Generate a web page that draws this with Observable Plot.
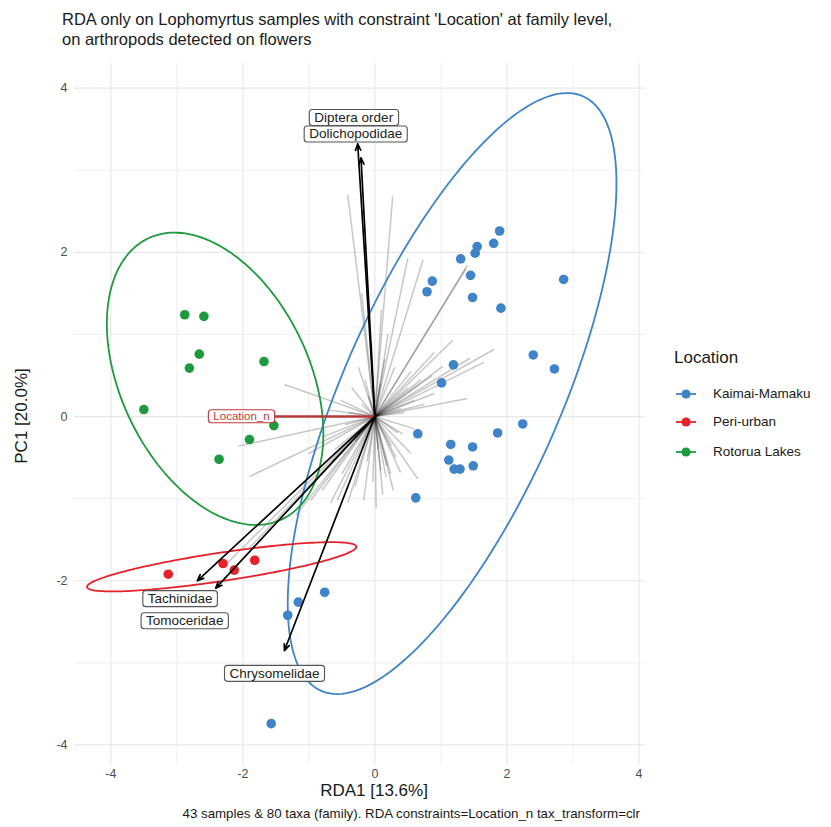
<!DOCTYPE html>
<html><head><meta charset="utf-8">
<script src="https://cdn.jsdelivr.net/npm/d3@7"></script>
<script src="https://cdn.jsdelivr.net/npm/@observablehq/plot@0.6"></script>
<style>
body{margin:0;background:#fff;font-family:"Liberation Sans",Arial,sans-serif;}
#wrap{position:relative;width:831px;height:827px;overflow:hidden;}
.abs{position:absolute;white-space:nowrap;color:#1a1a1a;}
</style></head><body><div id="wrap"></div>
<script>
// ---- data ----
const locations = ["Kaimai-Mamaku", "Peri-urban", "Rotorua Lakes"];
const locColors = ["#3f83c8", "#e5222a", "#1e9a3e"];

const kaimaiX = [1.89,1.55,1.80,1.52,1.30,2.86,0.87,0.79,1.45,1.48,1.91,2.40,2.72,1.19,1.01,2.24,0.65,1.86,1.15,1.48,1.12,1.20,1.29,1.49,0.62,-0.76,-1.16,-1.32,-1.57];
const kaimaiY = [2.26,2.07,2.11,1.99,1.92,1.67,1.65,1.52,1.72,1.45,1.32,0.75,0.58,0.63,0.41,-0.09,-0.21,-0.20,-0.34,-0.37,-0.53,-0.64,-0.64,-0.60,-0.99,-2.14,-2.26,-2.42,-3.74];
const periX = [-3.13,-2.30,-2.13,-1.82];
const periY = [-1.92,-1.79,-1.87,-1.75];
const rotoruaX = [-2.88,-2.59,-2.66,-2.81,-1.68,-3.50,-1.53,-1.90,-2.36];
const rotoruaY = [1.24,1.22,0.76,0.59,0.67,0.085,-0.11,-0.28,-0.52];

// confidence ellipses: centre, half-width, half-height, y-offset at rightmost point
const ellipseLoc = ["Kaimai-Mamaku", "Peri-urban", "Rotorua Lakes"];
const ellipseCx = [1.17, -2.32, -2.42];
const ellipseCy = [0.28, -1.83, 0.46];
const ellipseHw = [2.49, 2.04, 1.64];
const ellipseHh = [3.66, 0.30, 1.78];
const ellipseK  = [2.56, 0.244, -0.67];

// taxa loadings (grey segments from origin)
const taxaX = [-0.41,0.27,0.50,0.73,1.40,1.38,-0.20,0.10,0.20,-0.05,
  1.18,0.90,1.81,1.65,1.44,1.40,0.90,0.87,1.03,0.70,0.60,0.50,0.55,0.75,0.45,
  0.42,0.65,0.02,0.17,0.24,0.39,0.09,0.32,-0.03,0.55,0.25,0.12,
  -0.97,-0.67,-0.57,-0.41,-0.17,-0.80,-0.30,-0.50,-2.23,-1.90,-1.20,
  -1.37,-2.07,-1.90,-0.52,-0.70,-0.45,-0.80,-1.00,-0.60,
  -0.25,-0.35,-0.15,0.30,-0.10,0.35,-0.30,0.15,-0.20,0.40,0.05,-0.12,0.28,-0.40,0.18,0.60,-0.65,0.08];
const taxaY = [2.70,2.68,1.93,1.91,1.84,1.80,1.50,1.30,1.00,0.90,
  0.93,0.78,0.82,0.66,0.71,0.22,0.28,0.50,0.61,0.45,0.20,0.35,0.55,0.15,0.05,
  -0.21,-0.76,-1.11,-0.74,-0.70,-0.68,-0.66,-0.50,-0.80,-0.45,-0.35,-0.95,
  -1.02,-1.05,-1.02,-1.05,-1.02,-0.90,-0.85,-0.70,-1.78,-1.60,-1.20,
  0.39,-0.36,-0.73,0.20,0.08,-0.10,-0.25,-0.45,-0.40,
  0.60,0.35,0.45,0.60,0.25,-0.20,-0.30,0.70,0.15,0.10,-0.40,-0.55,-0.90,0.05,-0.60,-0.15,-0.55,0.40];

// highlighted taxa (black arrows) and their label positions
const topTaxa = ["Diptera order", "Dolichopodidae", "Tachinidae", "Tomoceridae", "Chrysomelidae"];
const topX = [-0.21, -0.26, -2.69, -2.41, -1.37];
const topY = [3.15, 3.32, -2.00, -2.09, -2.85];
const topLabelX = [-0.32, -0.29, -2.95, -2.88, -1.52];
const topLabelY = [3.64, 3.44, -2.22, -2.49, -3.13];

// constraint
const constraintName = ["Location_n"];
const constraintX = [-2.02];
const constraintY = [0];

const xTicks = [-4, -2, 0, 2, 4];
const yTicks = [-4, -2, 0, 2, 4];
const xMinor = [-3, -1, 1, 3];
const yMinor = [-3, -1, 1, 3];

const titleText = ["RDA only on Lophomyrtus samples with constraint 'Location' at family level,", "on arthropods detected on flowers"];
const xLabel = "RDA1 [13.6%]";
const yLabel = "PC1 [20.0%]";
const captionText = "43 samples & 80 taxa (family). RDA constraints=Location_n tax_transform=clr";

// ---- tables ----
const samples = [
  ...kaimaiX.map((x, i) => ({x, y: kaimaiY[i], loc: locations[0]})),
  ...periX.map((x, i) => ({x, y: periY[i], loc: locations[1]})),
  ...rotoruaX.map((x, i) => ({x, y: rotoruaY[i], loc: locations[2]}))
];
const ellipsePts = [];
ellipseLoc.forEach((loc, j) => {
  const m = Math.sqrt(ellipseHh[j] ** 2 - ellipseK[j] ** 2);
  for (let i = 0; i < 180; i++) {
    const t = i / 180 * 2 * Math.PI;
    ellipsePts.push({loc, x: ellipseCx[j] + ellipseHw[j] * Math.cos(t), y: ellipseCy[j] + ellipseK[j] * Math.cos(t) + m * Math.sin(t)});
  }
});
const taxa = taxaX.map((x, i) => ({x, y: taxaY[i]}));
const tops = topTaxa.map((name, i) => ({name, x: topX[i], y: topY[i], lx: topLabelX[i], ly: topLabelY[i]}));
const constraints = constraintName.map((name, i) => ({name, x: constraintX[i], y: constraintY[i]}));

const fmt = d => String(d);
const chart = Plot.plot({
  width: 831, height: 827,
  marginLeft: 74, marginRight: 186, marginTop: 63, marginBottom: 62,
  style: {fontFamily: "Liberation Sans, Arial, sans-serif", background: "white"},
  x: {domain: [-4.55, 4.1]},
  y: {domain: [-4.25, 4.3]},
  color: {domain: locations, range: locColors},
  marks: [
    Plot.gridX(xMinor, {stroke: "#ededed", strokeOpacity: 1, strokeWidth: 0.8}),
    Plot.gridY(yMinor, {stroke: "#ededed", strokeOpacity: 1, strokeWidth: 0.8}),
    Plot.gridX(xTicks, {stroke: "#e8e8e8", strokeOpacity: 1, strokeWidth: 1.2}),
    Plot.gridY(yTicks, {stroke: "#e8e8e8", strokeOpacity: 1, strokeWidth: 1.2}),
    Plot.axisX(xTicks, {tickSize: 0, tickPadding: 4, fontSize: 12.5, color: "#4d4d4d", label: null, tickFormat: fmt}),
    Plot.axisY(yTicks, {tickSize: 0, tickPadding: 7, fontSize: 12.5, color: "#4d4d4d", label: null, tickFormat: fmt}),
    Plot.link(taxa, {x1: 0, y1: 0, x2: "x", y2: "y", stroke: "#000", strokeOpacity: 0.22, strokeWidth: 1.5}),
    Plot.line(ellipsePts, {x: "x", y: "y", z: "loc", stroke: "loc", strokeWidth: 1.8, curve: "linear-closed"}),
    Plot.dot(samples, {x: "x", y: "y", fill: "loc", r: 4.8}),
    Plot.link(constraints, {x1: 0, y1: 0, x2: "x", y2: "y", stroke: "#b8383a", strokeWidth: 2.5}),
    Plot.arrow(tops, {x1: 0, y1: 0, x2: "x", y2: "y", stroke: "#000", strokeWidth: 1.7, headLength: 6, headAngle: 45}),
    Plot.text(tops, {x: "lx", y: "ly", text: "name", fontSize: 13.5, fill: "#222"}),
    Plot.text(constraints, {x: "x", y: "y", text: "name", fontSize: 11.5, fill: "#c0393b"})
  ]
});
const wrap = document.getElementById("wrap");
wrap.appendChild(chart);

// label boxes
const boxed = new Set([...topTaxa, ...constraintName]);
d3.select(chart).selectAll("text").each(function() {
  const t = this.textContent;
  if (!boxed.has(t) || this.closest("g[aria-label$='axis']")) return;
  const bb = this.getBBox();
  const red = constraintName.includes(t);
  const r = document.createElementNS("http://www.w3.org/2000/svg", "rect");
  r.setAttribute("x", bb.x - 5); r.setAttribute("y", bb.y - 0.5);
  r.setAttribute("width", bb.width + 10); r.setAttribute("height", bb.height + 1);
  r.setAttribute("rx", 3);
  r.setAttribute("fill", "white");
  r.setAttribute("stroke", red ? "#c0393b" : "#555");
  r.setAttribute("stroke-width", 1.1);
  if (this.getAttribute("transform")) r.setAttribute("transform", this.getAttribute("transform"));
  this.parentNode.insertBefore(r, this);
});

function addDiv(html, css) {
  const d = document.createElement("div");
  d.className = "abs"; d.innerHTML = html;
  Object.assign(d.style, css);
  wrap.appendChild(d);
  return d;
}
addDiv(titleText.join("<br>"), {left: "62px", top: "9px", fontSize: "16.5px", lineHeight: "20px"});
addDiv(xLabel, {left: "374px", top: "781px", fontSize: "17px", lineHeight: "19px", transform: "translateX(-50%)"});
addDiv(yLabel, {left: "22px", top: "416px", fontSize: "17px", transform: "translate(-50%,-50%) rotate(-90deg)"});
addDiv(captionText, {right: "191px", top: "806px", fontSize: "13.3px", lineHeight: "16px"});

// legend
addDiv("Location", {left: "674px", top: "348px", fontSize: "17px"});
const legendTop = [393, 421.5, 451];
locations.forEach((loc, i) => {
  addDiv(`<svg width="26" height="14" style="vertical-align:middle"><line x1="2" x2="22" y1="7" y2="7" stroke="${locColors[i]}" stroke-width="1.8"/><circle cx="12" cy="7" r="4.6" fill="${locColors[i]}"/></svg>`,
    {left: "674px", top: (legendTop[i] - 7) + "px", lineHeight: "14px"});
  addDiv(loc, {left: "713px", top: (legendTop[i] - 8.5) + "px", fontSize: "13.5px", lineHeight: "17px"});
});
</script></body></html>
